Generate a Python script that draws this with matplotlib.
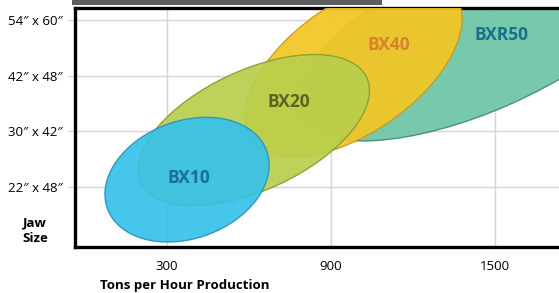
import matplotlib.pyplot as plt
from matplotlib.patches import Ellipse, Rectangle
from matplotlib.transforms import Affine2D

plt.rcParams['font.family'] = ['Open Sans', 'DejaVu Sans']

# jaw size levels (bottom to top) and production ticks
jaw_sizes = ['22\u2033 x 48\u2033', '30\u2033 x 42\u2033', '42\u2033 x 48\u2033', '54\u2033 x 60\u2033']
tph_ticks = [300, 900, 1500]

# models: name, centre (tph, jaw level), width / height (in tph units), tilt
models = ['BXR50', 'BX40', 'BX20', 'BX10']
centre_tph = [1445, 982, 617, 373]
centre_jaw = [2.75, 2.14, 1.02, 0.13]
span_w = [1460, 912, 912, 620]
span_h = [560, 474, 438, 430]
tilt = [24, 35, 25, 20]
label_tph = [1522, 1113, 745, 380]
label_jaw = [2.73, 2.55, 1.53, 0.16]

fills = ['#6cc5a5', '#f4c623', '#b8cf4c', '#36c1e9']
edges = ['#3d8d73', '#c49d1c', '#8c9b33', '#2a93b8']
text_cols = ['#176f8c', '#d9822c', '#5b6423', '#1b6e95']

fig = plt.figure(figsize=(5.59, 2.93), dpi=100)
ax = fig.add_axes([75 / 559, 46 / 293, 484 / 559, 239 / 293])
ax.set_xlim(-37, 1734)
ax.set_ylim(-1.08, 3.215)

# ratio to keep ellipses round in screen space
px_x = 484 / (1734 + 37)
px_y = 239 / (3.215 + 1.08)
k = px_x / px_y

for i in range(len(models)):
    tr = Affine2D().scale(1, k).translate(centre_tph[i], centre_jaw[i]) + ax.transData
    e = Ellipse((0, 0), span_w[i], span_h[i], angle=tilt[i], transform=tr,
                facecolor=fills[i], edgecolor=edges[i], lw=1.0, alpha=0.92, zorder=2 + i)
    ax.add_patch(e)
    ax.text(label_tph[i], label_jaw[i], models[i], color=text_cols[i], fontsize=12.5,
            fontweight='bold', ha='center', va='center', zorder=10)

ax.set_yticks(range(len(jaw_sizes)))
ax.set_yticklabels(jaw_sizes, fontsize=9.5)
ax.set_xticks(tph_ticks)
ax.set_xticklabels([str(t) for t in tph_ticks], fontsize=9.5)
ax.tick_params(axis='y', length=5, color='#d0d0d0', pad=4)
ax.tick_params(axis='x', length=0, pad=9)
ax.grid(True, color='#d4d4d4', lw=1)
ax.set_axisbelow(True)

for s in ['left', 'bottom', 'top']:
    ax.spines[s].set_linewidth(2.4)
    ax.spines[s].set_color('black')
ax.spines['right'].set_visible(False)

fig.text(35 / 559, 1 - 231 / 293, 'Jaw\nSize', fontsize=9.5, fontweight='bold',
         ha='center', va='center', linespacing=1.3)
fig.text(185 / 559, 1 - 285 / 293, 'Tons per Hour Production', fontsize=9.5,
         fontweight='bold', ha='center', va='center')

# cropped header bar at the very top
fig.patches.append(Rectangle((72 / 559, 1 - 5 / 293), 310 / 559, 6 / 293,
                             transform=fig.transFigure, facecolor='#5e5e5e',
                             edgecolor='none', zorder=5))

fig.savefig('out.png', dpi=100)
